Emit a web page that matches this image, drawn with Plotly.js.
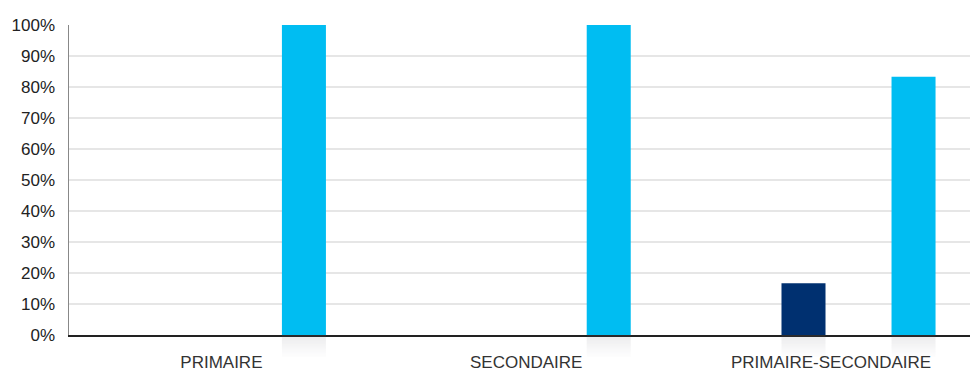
<!DOCTYPE html>
<html>
<head>
<meta charset="utf-8">
<script src="https://cdn.plot.ly/plotly-3.0.1.min.js"></script>
<style>html,body{margin:0;padding:0;background:#fff;}#chart{width:970px;height:372px;}</style>
</head>
<body>
<div id="chart"></div>
<script>
const categories = ['PRIMAIRE', 'SECONDAIRE', 'PRIMAIRE-SECONDAIRE'];
const seriesNames = ['Série 1', 'Série 2', 'Série 3', 'Série 4'];
const series1 = [0, 0, 0];
const series2 = [0, 0, 16.7];
const series3 = [0, 0, 0];
const series4 = [100, 100, 83.3];
const yTickValues = [0, 10, 20, 30, 40, 50, 60, 70, 80, 90, 100];

const allSeries = [series1, series2, series3, series4];
const colors = ['#8c8c8c', '#003070', '#5a5a5a', '#00bdf2'];

const plotTop = 25, plotBottom = 357, axisY = 335;
const d = (plotBottom - axisY) / (plotBottom - plotTop);

const traces = [];
allSeries.forEach((vals, i) => {
  traces.push({
    type: 'bar', name: seriesNames[i], x: categories, y: vals,
    marker: {color: colors[i], line: {width: 0}},
    xaxis: 'x', yaxis: 'y', hoverinfo: 'x+y+name'
  });
});

// soft reflection under each bar (gradient made of thin segments)
const nSeg = 12;
allSeries.forEach((vals, i) => {
  const xs = [], bases = [], ys = [], cols = [];
  vals.forEach((v, c) => {
    for (let k = 0; k < nSeg; k++) {
      xs.push(categories[c]);
      bases.push(k / nSeg);
      ys.push(v > 0 ? 1 / nSeg : 0);
      const a = 0.13 * (1 - k / nSeg);
      cols.push('rgba(110,110,120,' + a.toFixed(3) + ')');
    }
  });
  traces.push({
    type: 'bar', x: xs, y: ys, base: bases, showlegend: false,
    marker: {color: cols, line: {width: 0}},
    xaxis: 'x', yaxis: 'y2', hoverinfo: 'skip'
  });
});

const layout = {
  width: 970, height: 372,
  margin: {l: 69, r: 0, t: plotTop, b: 372 - plotBottom, pad: 0},
  paper_bgcolor: '#fff', plot_bgcolor: 'rgba(0,0,0,0)',
  barmode: 'group', bargap: 0.278, bargroupgap: 0.2,
  showlegend: false,
  font: {family: 'Liberation Sans, Arial, sans-serif', color: '#222'},
  xaxis: {
    type: 'category', range: [-0.5, 2.456], anchor: 'y',
    showline: true, linecolor: '#222', linewidth: 1.5,
    ticks: '', showgrid: false, zeroline: false,
    tickfont: {size: 17, color: '#333'}, ticklabelstandoff: 11
  },
  yaxis: {
    domain: [d, 1], range: [0, 100], tickvals: yTickValues,
    ticktext: yTickValues.map(v => v + '%'),
    showline: true, linecolor: '#888', linewidth: 1.5,
    gridcolor: '#e6e6e6', gridwidth: 1.5, zeroline: false,
    ticks: '', tickfont: {size: 17, color: '#222'}, ticklabelstandoff: 9
  },
  yaxis2: {
    domain: [0, d], range: [1, 0], anchor: 'x', visible: false,
    showgrid: false, zeroline: false
  }
};

Plotly.newPlot('chart', traces, layout, {displayModeBar: false, staticPlot: true});
</script>
</body>
</html>
